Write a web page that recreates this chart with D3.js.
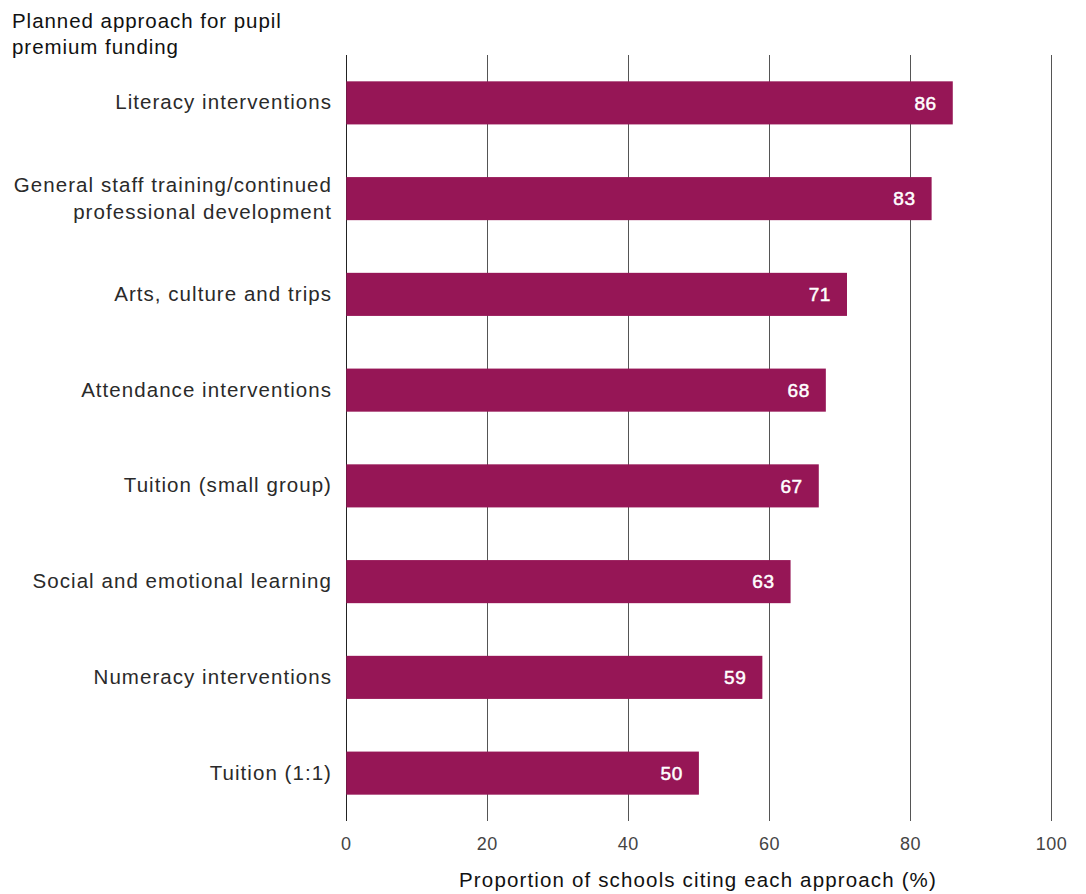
<!DOCTYPE html>
<html>
<head>
<meta charset="utf-8">
<script src="https://cdn.jsdelivr.net/npm/d3@7"></script>
<style>
  body { margin: 0; background: #fff; }
  svg { display: block; font-family: "Liberation Sans", Arial, sans-serif; }
</style>
</head>
<body>
<svg id="chart" width="1086" height="894"></svg>
<script>
const categories = [
  "Literacy interventions",
  "General staff training/continued professional development",
  "Arts, culture and trips",
  "Attendance interventions",
  "Tuition (small group)",
  "Social and emotional learning",
  "Numeracy interventions",
  "Tuition (1:1)"
];
// Multi-line category labels
const categoryLines = [
  ["Literacy interventions"],
  ["General staff training/continued", "professional development"],
  ["Arts, culture and trips"],
  ["Attendance interventions"],
  ["Tuition (small group)"],
  ["Social and emotional learning"],
  ["Numeracy interventions"],
  ["Tuition (1:1)"]
];
const values = [86, 83, 71, 68, 67, 63, 59, 50];
const xTicks = [0, 20, 40, 60, 80, 100];
const titleLines = ["Planned approach for pupil", "premium funding"];
const xTitle = "Proportion of schools citing each approach (%)";

const svg = d3.select("#chart");
const plotLeft = 346.3, plotRight = 1051.5, plotTop = 55, plotBottom = 821;
const barColor = "#961656";

const x = d3.scaleLinear().domain([0, 100]).range([plotLeft, plotRight]);
const y = d3.scaleBand().domain(categories).range([plotTop, plotBottom]).paddingInner(0.55).paddingOuter(0.275);

// Gridlines
svg.append("g").selectAll("line").data(xTicks).join("line")
  .attr("x1", d => x(d)).attr("x2", d => x(d))
  .attr("y1", plotTop).attr("y2", plotBottom)
  .attr("stroke", d => d === 0 ? "#222" : "#555")
  .attr("stroke-width", 1.2)
  .attr("shape-rendering", "crispEdges");

// Bars
svg.append("g").selectAll("rect").data(categories).join("rect")
  .attr("x", x(0))
  .attr("y", d => y(d))
  .attr("width", (d, i) => x(values[i]) - x(0))
  .attr("height", y.bandwidth())
  .attr("fill", barColor);

// Value labels
svg.append("g").selectAll("text").data(categories).join("text")
  .attr("x", (d, i) => x(values[i]) - 16)
  .attr("y", d => y(d) + y.bandwidth() / 2)
  .attr("dy", "0.36em")
  .attr("text-anchor", "end")
  .attr("fill", "#fff")
  .attr("stroke", "#fff")
  .attr("stroke-width", 0.5)
  .attr("font-size", 19)
  .attr("letter-spacing", 0.6)
  .text((d, i) => values[i]);

// Category labels
const catG = svg.append("g");
categories.forEach((c, i) => {
  const lines = categoryLines[i];
  const cy = y(c) + y.bandwidth() / 2;
  const lh = 27;
  const t = catG.append("text")
    .attr("text-anchor", "end")
    .attr("font-size", 20.5)
    .attr("letter-spacing", 1.05)
    .attr("fill", "#2a2a2a");
  lines.forEach((ln, j) => {
    t.append("tspan")
      .attr("x", 332)
      .attr("y", cy + (j - (lines.length - 1) / 2) * lh - 1)
      .attr("dy", "0.36em")
      .text(ln);
  });
});

// X tick labels
svg.append("g").selectAll("text").data(xTicks).join("text")
  .attr("x", d => x(d))
  .attr("y", 850)
  .attr("text-anchor", "middle")
  .attr("font-size", 18)
  .attr("letter-spacing", 0.5)
  .attr("fill", "#444")
  .text(d => d);

// Axis title
svg.append("text")
  .attr("x", 698)
  .attr("y", 887)
  .attr("text-anchor", "middle")
  .attr("font-size", 20.5)
  .attr("letter-spacing", 1.15)
  .attr("fill", "#111")
  .text(xTitle);

// Chart title
const tt = svg.append("text").attr("font-size", 20.5).attr("letter-spacing", 0.95).attr("fill", "#111");
titleLines.forEach((ln, j) => {
  tt.append("tspan").attr("x", 12).attr("y", 28 + j * 26).text(ln);
});
</script>
</body>
</html>
